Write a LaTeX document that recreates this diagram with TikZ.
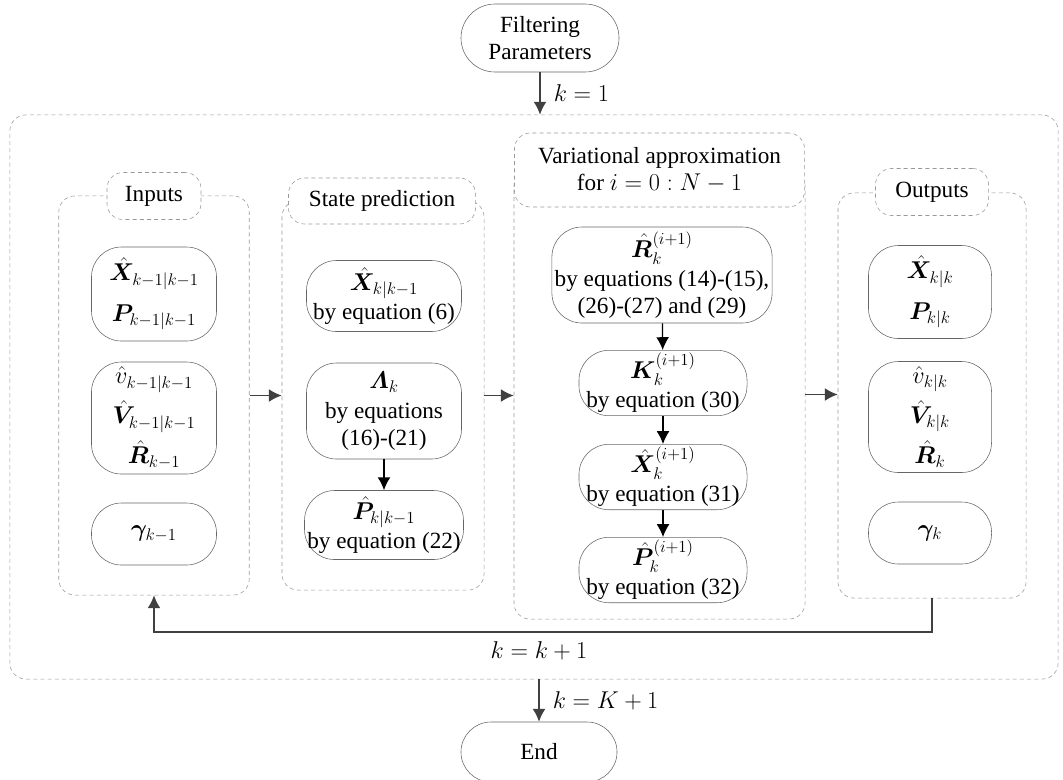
\documentclass[tikz,border=0pt]{standalone}
\usepackage{amsmath}
\usepackage{bm}
\usepackage[no-math]{fontspec}
\setmainfont{Liberation Serif}
\usetikzlibrary{positioning,arrows.meta}

\begin{document}
\begin{tikzpicture}[x=0.025cm,y=-0.025cm,
                    font=\fontsize{16.5}{19}\selectfont,
                    item/.style={draw=black!60,rounded corners=0.75cm,align=center,inner sep=2pt},
                    group/.style={draw=black!40,dash pattern=on 1mm off 0.8mm,rounded corners=0.4cm},
                    title/.style={group,fill=white,align=center},
                    flow/.style={-{Latex[length=3.2mm,width=3.2mm]},draw=black!75,line width=0.9pt}
                ]
    \useasboundingbox (0,0) rectangle (1063,779);

    % outer loop and the four groups
    \node[group,minimum width=26.2cm,minimum height=14.1cm] (outer) at (534,397) {};
    \node[group,minimum width=4.76cm,minimum height=9.975cm] (ingrp) at (154,395.5) {};
    \node[group,minimum width=5.05cm,minimum height=9.725cm] (stgrp) at (383,395.5) {};
    \node[group,minimum width=7.275cm,minimum height=11.225cm] (vargrp) at (659.5,394.5) {};
    \node[group,minimum width=4.7cm,minimum height=10.125cm] (outgrp) at (932,395.5) {};

    \node[title,minimum width=2.35cm,minimum height=1.175cm] (intitle) at (154,196) {Inputs};
    \node[title,minimum width=4.675cm,minimum height=1.15cm] (sttitle) at (382,201) {State prediction};
    \node[title,minimum width=7.25cm,minimum height=1.85cm] (vartitle) at (659.5,170)
        {Variational approximation\\ for $i=0:N-1$};
    \node[title,minimum width=2.825cm,minimum height=1.175cm] (outtitle) at (932,192) {Outputs};

    % start and end
    \node[item,rounded corners=0.85cm,minimum width=3.95cm,minimum height=1.7cm] (fp) at (540,38)
        {Filtering\\ Parameters};
    \node[item,minimum width=3.9cm,minimum height=1.5cm] (end) at (539,752) {End};

    % inputs
    \node[item,minimum width=3.125cm,minimum height=2.35cm] (in1) at (154,294)
        {$\hat{\bm X}_{k-1|k-1}$\\[10pt] $\bm P_{k-1|k-1}$};
    \node[item,minimum width=3.125cm,minimum height=2.8cm] (in2) at (154,418)
        {$\hat{v}_{k-1|k-1}$\\[5pt] $\hat{\bm V}_{k-1|k-1}$\\[5pt] $\hat{\bm R}_{k-1}$};
    \node[item,minimum width=3.125cm,minimum height=1.55cm] (in3) at (154,534) {$\bm\gamma_{k-1}$};

    % state prediction
    \node[item,minimum width=3.875cm,minimum height=1.775cm] (st1) at (384,296)
        {$\hat{\bm X}_{k|k-1}$\\[2pt] by equation (6)};
    \node[item,minimum width=3.875cm,minimum height=2.4cm] (st2) at (384,411)
        {$\bm\varLambda_k$\\[2pt] by equations\\ (16)-(21)};
    \node[item,minimum width=3.875cm,minimum height=1.725cm] (st3) at (384,525)
        {$\hat{\bm P}_{k|k-1}$\\[2pt] by equation (22)};

    % variational approximation
    \node[item,minimum width=5.425cm,minimum height=2.4cm] (va1) at (662,275)
        {$\hat{\bm R}_k^{(i+1)}$\\[2pt] by equations (14)-(15),\\ (26)-(27) and (29)};
    \node[item,minimum width=4.2cm,minimum height=1.55cm] (va2) at (663,383)
        {$\bm K_k^{(i+1)}$\\[2pt] by equation (30)};
    \node[item,minimum width=4.2cm,minimum height=1.575cm] (va3) at (663,477)
        {$\hat{\bm X}_k^{(i+1)}$\\[2pt] by equation (31)};
    \node[item,minimum width=4.2cm,minimum height=1.575cm] (va4) at (663,570)
        {$\hat{\bm P}_k^{(i+1)}$\\[2pt] by equation (32)};

    % outputs
    \node[item,minimum width=3.075cm,minimum height=2.325cm] (out1) at (930,292)
        {$\hat{\bm X}_{k|k}$\\[10pt] $\bm P_{k|k}$};
    \node[item,minimum width=3.075cm,minimum height=2.775cm] (out2) at (930,417)
        {$\hat{v}_{k|k}$\\[5pt] $\hat{\bm V}_{k|k}$\\[5pt] $\hat{\bm R}_k$};
    \node[item,minimum width=3.075cm,minimum height=1.55cm] (out3) at (930,533) {$\bm\gamma_k$};

    % connectors
    \draw[flow] (fp) -- (fp |- outer.north) node[midway,right=6pt] {$k=1$};
    \draw[flow] (end |- outer.south) -- (end) node[midway,right=6pt] {$k=K+1$};
    \foreach \a/\b in {ingrp/stgrp,stgrp/vargrp,vargrp/outgrp}
        \draw[flow] (\a.east) -- (\a.east -| \b.west);
    \foreach \a/\b in {st2/st3,va1/va2,va2/va3,va3/va4}
        \draw[flow,draw=black] (\a) -- (\b);
    \coordinate (fb) at (154,632);
    \draw[flow] (outgrp.south) |- (fb) -- (ingrp.south);
    \node (fblabel) at (539,651) {$k=k+1$};
\end{tikzpicture}
\end{document}
